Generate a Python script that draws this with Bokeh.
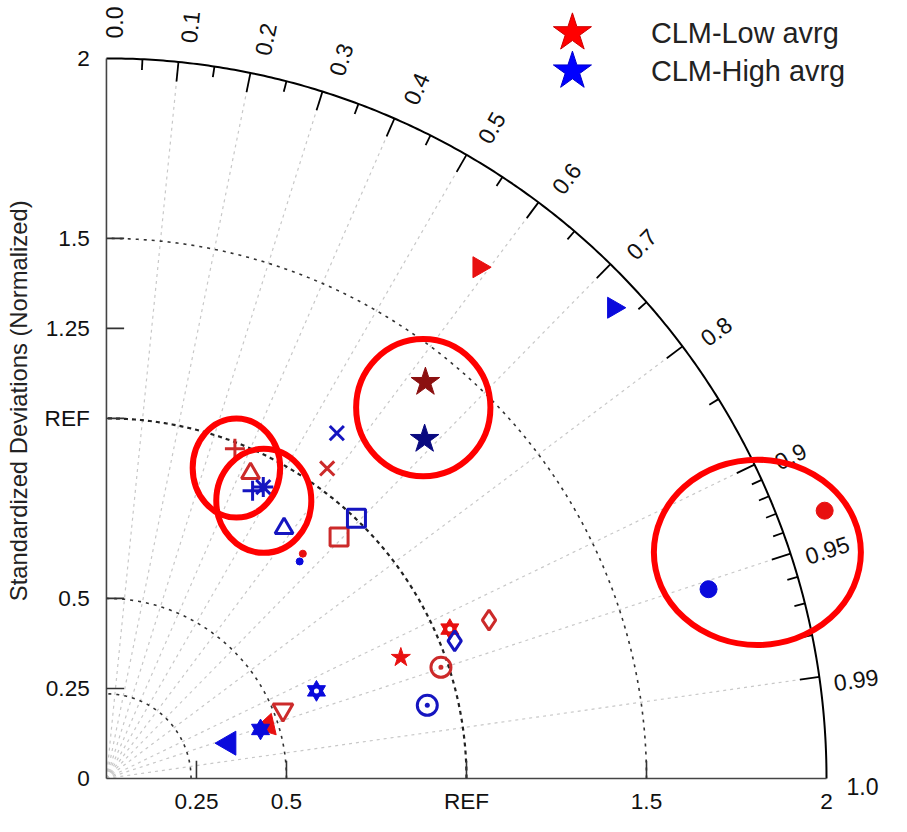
import numpy as np
from bokeh.plotting import figure
from bokeh.models import Range1d
from bokeh.embed import file_html
from bokeh.resources import INLINE
from bokeh.core.properties import value

# ---------------- data ----------------
# CLM-Low (red) models: normalized std and correlation
low_std = [1.757, 2.129, 0.983, 0.937, 1.057, 0.931, 0.829, 0.471, 0.526, 0.884, 0.979, 1.040, 1.150]
low_corr = [0.589, 0.937, 0.363, 0.427, 0.580, 0.694, 0.658, 0.950, 0.932, 0.925, 0.949, 0.917, 0.924]
low_marker = ["tri_right", "circle", "cross", "triangle", "x", "square", "dot",
              "triangle_filled", "inverted_triangle", "star", "circle_dot", "hexagram", "diamond"]
# CLM-High (blue) models
high_std = [1.922, 1.753, 0.896, 0.919, 0.852, 1.153, 1.002, 0.807, 0.354, 0.449, 0.632, 0.914, 1.040]
high_corr = [0.733, 0.954, 0.453, 0.474, 0.579, 0.555, 0.693, 0.665, 0.961, 0.953, 0.923, 0.975, 0.930]
high_marker = ["tri_right", "circle", "cross", "asterisk", "triangle", "x", "square", "dot",
               "tri_left", "hexagram_filled", "hexagram", "circle_dot", "diamond"]
# ensemble averages
avg_std = [1.413, 1.292]
avg_corr = [0.627, 0.684]
avg_names = ["CLM-Low avrg", "CLM-High avrg"]

# axis ticks / labels
std_ticks_y = [0, 0.25, 0.5, 1.0, 1.25, 1.5, 2.0]
std_labels_y = ["0", "0.25", "0.5", "REF", "1.25", "1.5", "2"]
std_ticks_x = [0.25, 0.5, 1.0, 1.5, 2.0]
std_labels_x = ["0.25", "0.5", "REF", "1.5", "2"]
corr_major = [0.0, 0.1, 0.2, 0.3, 0.4, 0.5, 0.6, 0.7, 0.8, 0.9, 0.95, 0.99, 1.0]
corr_major_labels = ["0.0", "0.1", "0.2", "0.3", "0.4", "0.5", "0.6", "0.7", "0.8", "0.9", "0.95", "0.99", "1.0"]
corr_minor = [0.05, 0.15, 0.25, 0.35, 0.45, 0.55, 0.65, 0.75, 0.85, 0.91, 0.92, 0.93, 0.94, 0.96, 0.97, 0.98]
corr_gridlines = [0.1, 0.2, 0.3, 0.4, 0.5, 0.6, 0.7, 0.8, 0.9, 0.95, 0.99]
std_arcs = [0.235, 0.5, 1.5]
ref_std = 1.0
max_std = 2.0

# hand-drawn highlight ellipses (centre x, centre y, width, height) in std units
hl_x = [0.880, 0.361, 0.437, 1.808]
hl_y = [1.030, 0.862, 0.771, 0.628]
hl_w = [0.373, 0.243, 0.264, 0.575]
hl_h = [0.381, 0.275, 0.289, 0.515]

# ---------------- figure ----------------
W, H = 891, 816
S = 0.981              # overall scale so the whole diagram fits
R = 367.0              # design pixels per std unit (offsets below are in design px)
PX = R * S             # actual pixels per std unit
OX, OY = 108 * S, 793 * S
FONT = value("Liberation Sans")


def fs(v):
    return "%.1fpx" % (v * S)


p = figure(width=W, height=H,
           x_range=Range1d(-OX / PX, (W - OX) / PX),
           y_range=Range1d(-(H - OY) / PX, OY / PX),
           output_backend="svg", toolbar_location=None, min_border=0,
           x_axis_location=None, y_axis_location=None)
p.grid.visible = False
p.outline_line_color = None
p.background_fill_color = "white"
p.border_fill_color = "white"


def pol(r, c):
    r = np.asarray(r, dtype=float)
    c = np.asarray(c, dtype=float)
    return r * c, r * np.sqrt(1 - c ** 2)


# gray radial correlation lines
gc = np.array(corr_gridlines)
gx, gy = pol(np.full(len(gc), max_std), gc)
p.segment(x0=np.zeros(len(gc)), y0=np.zeros(len(gc)), x1=gx, y1=gy,
          line_color="#c8c8c8", line_dash="3 4", line_width=1.2)

# dashed std arcs
th = np.linspace(0, np.pi / 2, 300)
for r in std_arcs:
    p.line(r * np.cos(th), r * np.sin(th), line_color="#333333", line_dash="3 5", line_width=1.6)
p.line(ref_std * np.cos(th), ref_std * np.sin(th), line_color="#222222", line_dash="4 4", line_width=2.2)

# outer arc and axes
p.line(max_std * np.cos(th), max_std * np.sin(th), line_color="black", line_width=2)
p.line([0, 0], [0, max_std], line_color="#444444", line_width=1.6)
p.line([0, max_std], [0, 0], line_color="#444444", line_width=1.6)

# axis ticks (inward)
tl = 18 / R
yt = [t for t in std_ticks_y if 0 < t < max_std]
p.segment(x0=np.zeros(len(yt)), y0=yt, x1=np.full(len(yt), tl), y1=yt, line_color="#333333", line_width=1.6)
xt = [t for t in std_ticks_x if 0 < t < max_std]
p.segment(x0=xt, y0=np.zeros(len(xt)), x1=xt, y1=np.full(len(xt), tl), line_color="#333333", line_width=1.6)

# correlation ticks on the outer arc
cm = np.array([c for c in corr_major if 0 < c < 1])
x0, y0 = pol(np.full(len(cm), max_std), cm)
x1, y1 = pol(np.full(len(cm), max_std - 20 / R), cm)
p.segment(x0=x0, y0=y0, x1=x1, y1=y1, line_color="black", line_width=1.8)
cn = np.array(corr_minor)
x0, y0 = pol(np.full(len(cn), max_std), cn)
x1, y1 = pol(np.full(len(cn), max_std - 11 / R), cn)
p.segment(x0=x0, y0=y0, x1=x1, y1=y1, line_color="black", line_width=1.8)

# correlation labels
ang = np.arccos(np.array(corr_major)) - np.radians(0.6)
rl = 2.10
p.text(x=rl * np.cos(ang), y=rl * np.sin(ang), text=corr_major_labels,
       angle=np.arccos(np.array(corr_major)),
       text_font=FONT, text_font_size=fs(23.5), text_color="#111111",
       text_align="center", text_baseline="middle")

# std labels
p.text(x=np.full(len(std_ticks_y), -17 / R), y=std_ticks_y, text=std_labels_y,
       text_font=FONT, text_font_size=fs(23), text_color="#111111",
       text_align="right", text_baseline="middle")
p.text(x=std_ticks_x, y=np.full(len(std_ticks_x), -24 / R), text=std_labels_x,
       text_font=FONT, text_font_size=fs(23), text_color="#111111",
       text_align="center", text_baseline="middle")

# y title
p.text(x=[-90 / R], y=[385 / R], text=["Standardized Deviations (Normalized)"], angle=np.pi / 2,
       text_font=FONT, text_font_size=fs(24.3), text_color="#222222",
       text_align="center", text_baseline="middle")

# ---------------- model markers ----------------
STYLE = {
    "tri_right": dict(marker="triangle", fill=True, size=21, angle=-np.pi / 2, lw=1),
    "tri_left": dict(marker="triangle", fill=True, size=24, angle=np.pi / 2, lw=1),
    "circle": dict(marker="circle", fill=True, size=17, angle=0, lw=1),
    "dot": dict(marker="circle", fill=True, size=7, angle=0, lw=1),
    "cross": dict(marker="cross", fill=False, size=20, angle=0, lw=3),
    "asterisk": dict(marker="asterisk", fill=False, size=20, angle=0, lw=3),
    "x": dict(marker="x", fill=False, size=20, angle=0, lw=3),
    "triangle": dict(marker="triangle", fill=False, size=18, angle=0, lw=3),
    "triangle_filled": dict(marker="triangle", fill=True, size=22, angle=-0.3, lw=1),
    "inverted_triangle": dict(marker="inverted_triangle", fill=False, size=20, angle=0, lw=3),
    "square": dict(marker="square", fill=False, size=18, angle=0, lw=3),
    "diamond": dict(marker="diamond", fill=False, size=20, angle=0, lw=3),
    "circle_dot": dict(marker="circle_dot", fill=False, size=20, angle=0, lw=3),
    "star": dict(marker="star", fill=True, size=20, angle=0, lw=1),
}


def draw_series(stds, corrs, markers, fill_col, line_col):
    xs, ys = pol(stds, corrs)
    for x, y, m in zip(xs, ys, markers):
        if m.startswith("hexagram"):
            for mk in ("triangle", "inverted_triangle"):
                p.scatter([x], [y], marker=mk, size=18, fill_color=fill_col, line_color=fill_col, line_width=1)
            if m == "hexagram":
                p.scatter([x], [y], marker="circle", size=5, fill_color="white", line_color=None)
            continue
        s = STYLE[m]
        p.scatter([x], [y], marker=s["marker"], size=s["size"], angle=s["angle"],
                  fill_color=fill_col if s["fill"] else None,
                  line_color=fill_col if s["fill"] else line_col, line_width=s["lw"])


draw_series(low_std, low_corr, low_marker, "#e81010", "#cc2a2a")
draw_series(high_std, high_corr, high_marker, "#0a0adc", "#1515c0")

# averages
ax, ay = pol(avg_std, avg_corr)
p.scatter(ax, ay, marker="star", size=30, fill_color=["#8b1010", "#0a0a80"],
          line_color=["#8b1010", "#0a0a80"])

# highlight ellipses
p.ellipse(x=hl_x, y=hl_y, width=hl_w, height=hl_h, fill_color=None,
          line_color="#ff0000", line_width=6)

# legend
leg_y = [760 / R, 721 / R]
p.scatter(np.full(2, 475 / R), leg_y, marker="star", size=40,
          fill_color=["#ff0000", "#0000ff"], line_color=["#cc0000", "#0000cc"])
p.text(x=np.full(2, 555 / R), y=leg_y, text=avg_names,
       text_font=FONT, text_font_size=fs(29.5), text_color="#222222",
       text_align="left", text_baseline="middle")

open("out.html", "w").write(file_html(p, INLINE))
